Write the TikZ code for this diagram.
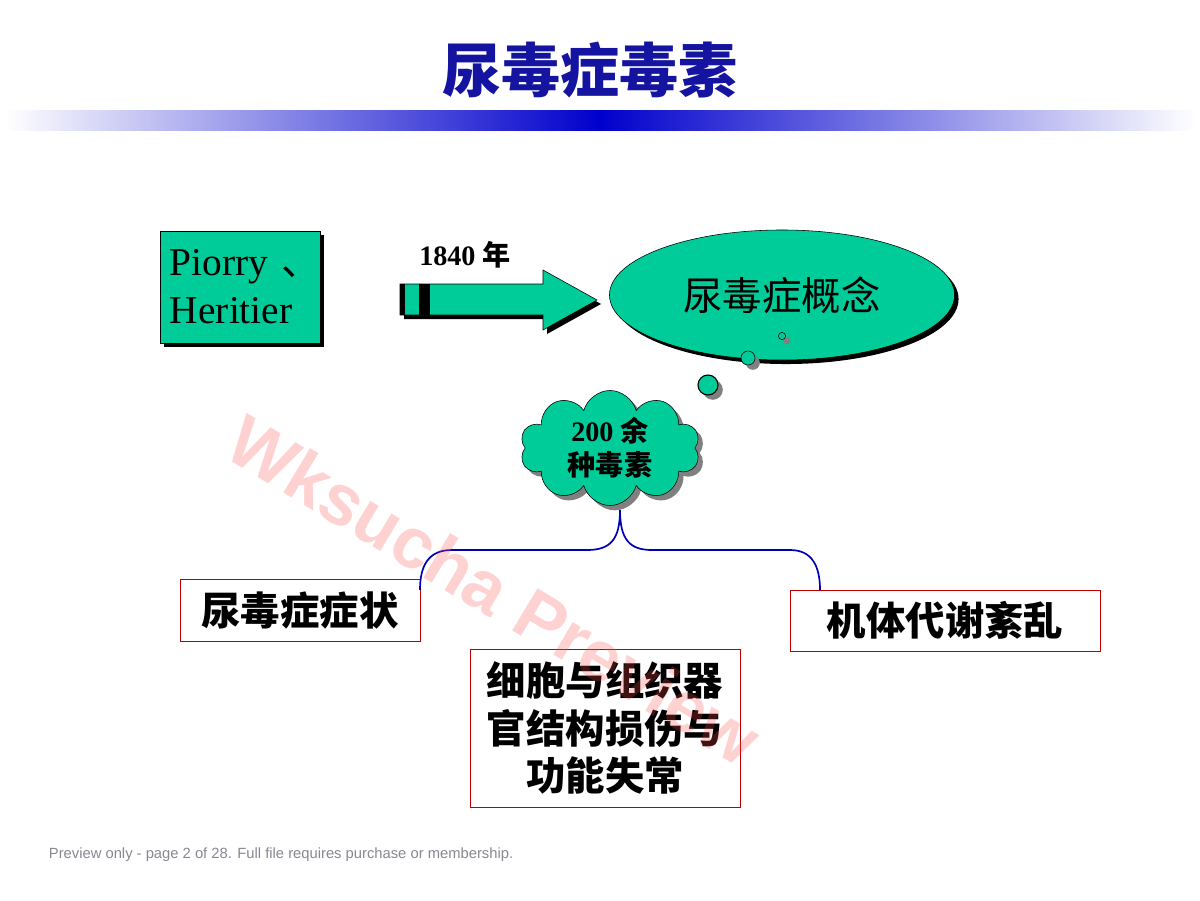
\documentclass[tikz,border=0pt]{standalone}
\usepackage{fontspec}
\setmainfont{Liberation Serif}
\setsansfont{Liberation Sans}
\newfontfamily\cjk{Noto Sans CJK SC}
\usetikzlibrary{shapes.geometric,shapes.symbols,shadows}
\definecolor{teal}{RGB}{0,204,153}
\definecolor{titleblue}{RGB}{20,20,160}
\definecolor{barblue}{RGB}{0,0,204}
\definecolor{boxred}{RGB}{192,0,0}
\definecolor{bracecol}{RGB}{0,0,180}
\definecolor{footgray}{RGB}{135,135,145}
\begin{document}
\begin{tikzpicture}[
  x=0.025cm, y=-0.025cm,
  hard/.style={drop shadow={shadow xshift=1mm, shadow yshift=-1mm, fill=black, opacity=1}},
  soft/.style={drop shadow={shadow xshift=1.2mm, shadow yshift=-1.2mm, fill=gray, opacity=1}},
  greenbox/.style={rectangle, draw, fill=teal, hard, minimum width=4cm, minimum height=2.8cm, text width=3.5cm, inner xsep=0.25cm, align=left, font=\fontsize{28}{34}\selectfont},
  bubble/.style={circle, draw, fill=teal, soft, inner sep=0pt},
  redbox/.style={rectangle, draw=boxred, thin, fill=white, align=center, font=\cjk\bfseries\fontsize{28}{33.5}\selectfont},
  brace/.style={very thick, bracecol},
]
  \useasboundingbox (0,0) rectangle (1200,900);

  % Title and bar
  \node[font=\cjk\bfseries\fontsize{42}{50}\selectfont, text=titleblue] (title) at (590, 70) {尿毒症毒素};
  \shade[left color=white, right color=barblue] (5,110) rectangle (600,130);
  \shade[left color=barblue, right color=white] (600,110) rectangle (1195,130);

  % Source box and arrow
  \node[greenbox] (src) at (240, 287) {\mbox{Piorry~{\cjk 、}}\\Heritier};
  \node[font=\bfseries\fontsize{20}{24}\selectfont] (year) at (465, 255) {1840 {\cjk\bfseries 年}};
  \fill[black] (404,288) -- (547,288) -- (547,274) -- (601,304) -- (547,334) -- (547,319) -- (404,319) -- cycle;
  \draw[fill=teal] (400,284) -- (543,284) -- (543,270) -- (597,300) -- (543,330) -- (543,315) -- (400,315) -- cycle;
  \fill[black] (400,284) rectangle (405,315);
  \fill[black] (419,284) rectangle (430,315);

  % Concept ellipse and thought bubbles
  \node[ellipse, draw, fill=teal, hard, minimum width=8.625cm, minimum height=3.25cm, inner sep=0pt,
        font=\cjk\fontsize{28}{34}\selectfont] (concept) at (782, 295) {尿毒症概念};
  \node[bubble, minimum size=0.18cm] (b1) at (782, 336) {};
  \node[bubble, minimum size=0.35cm] (b2) at (748, 358) {};
  \node[bubble, thick, minimum size=0.5cm] (b3) at (708, 385) {};

  % Toxin cloud
  \node[cloud, cloud puffs=10, aspect=1.55, draw, fill=teal, soft, minimum width=4.5cm, minimum height=2.875cm, inner sep=0pt,
        align=center, font=\bfseries\fontsize{20}{24}\selectfont] (toxin) at (610, 448) {200 {\cjk\bfseries 余}\\{\cjk\bfseries 种毒素}};

  % Effects
  \node[redbox, minimum width=6cm, minimum height=1.55cm] (symp) at (300, 610) {尿毒症症状};
  \node[redbox, minimum width=7.75cm, minimum height=1.525cm] (meta) at (945, 620.5) {机体代谢紊乱};
  \node[redbox, minimum width=6.75cm, minimum height=3.95cm] (cell) at (605, 728) {细胞与组织器\\官结构损伤与\\功能失常};

  % Brace from cloud
  \coordinate (top) at (620, 510);
  \coordinate (lend) at (420, 590);
  \coordinate (rend) at (820, 590);
  \draw[brace] (top) .. controls (620,540) and (610,550) .. (587,550) -- (452,550)
    .. controls (428,550) and (420,566) .. (lend);
  \draw[brace] (top) .. controls (620,540) and (630,550) .. (652,550) -- (790,550)
    .. controls (812,550) and (820,566) .. (rend);

  % Watermark and footer
  \node[font=\sffamily\bfseries\fontsize{51}{54}\selectfont, text=red!70, opacity=0.25, rotate=-31] (mark) at (494, 590) {Wksucha Preview};
  \node[anchor=west, font=\sffamily\fontsize{10.5}{12}\selectfont, text=footgray] (foot) at (44, 855) {Preview only - page 2 of 28. Full file requires purchase or membership.};
\end{tikzpicture}
\end{document}
